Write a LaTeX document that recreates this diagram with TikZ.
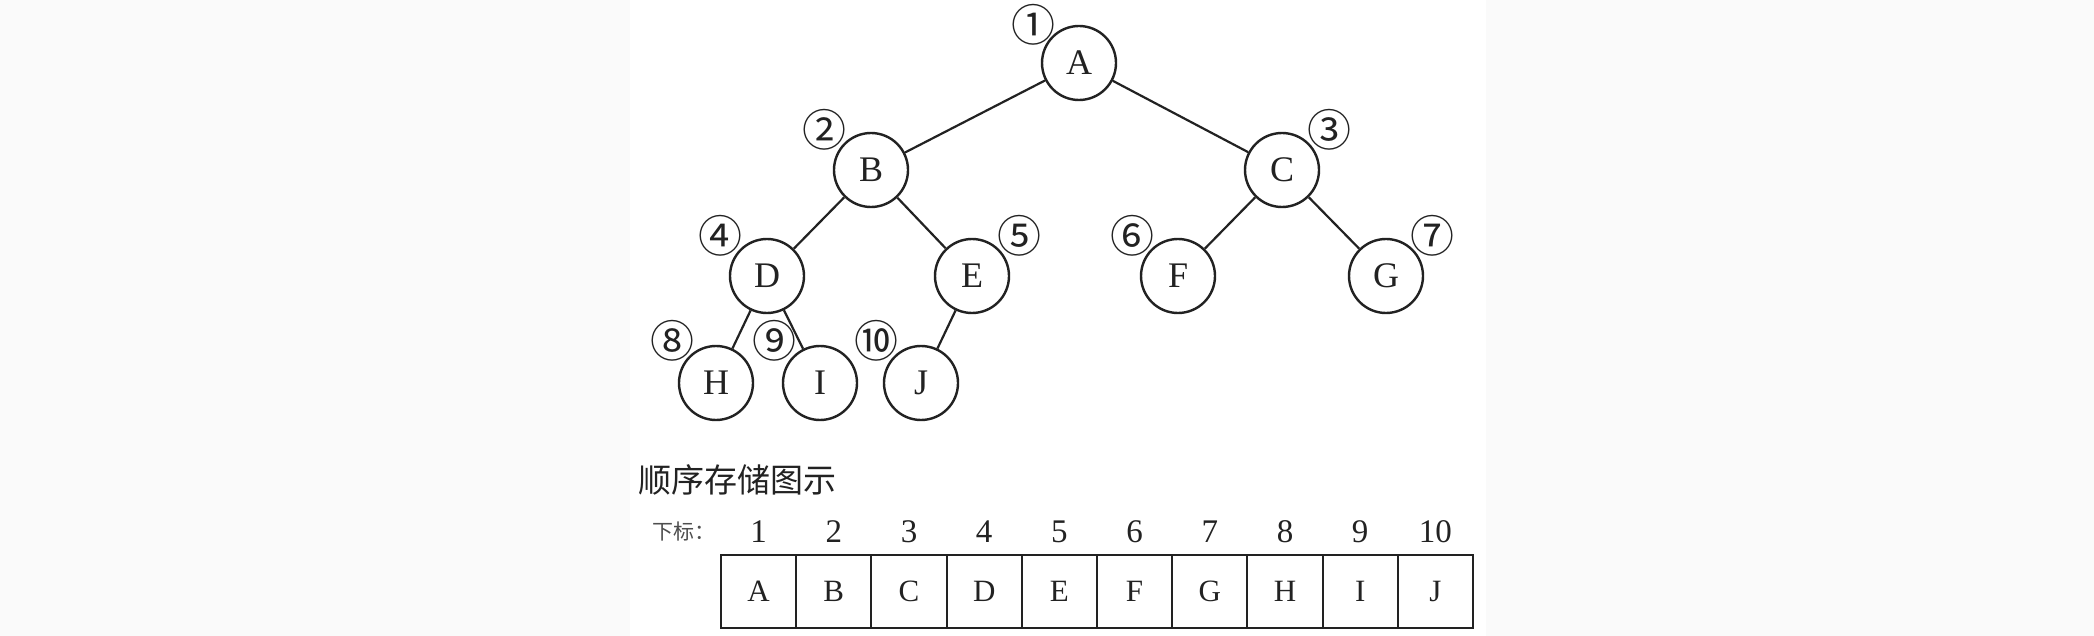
\documentclass[tikz,border=0pt]{standalone}
\usepackage{fontspec}
\setmainfont{Liberation Serif}
\newfontfamily\cjk{Noto Sans CJK SC}
\definecolor{outerbg}{HTML}{FAFAFA}
\definecolor{ink}{HTML}{222222}
\begin{document}
\begin{tikzpicture}[x=0.5pt,y=-0.5pt,
  treenode/.style={circle,draw=ink,text=ink,line width=1.2pt,minimum size=37pt,inner sep=0pt,font=\fontsize{18}{20}\selectfont},
  numlabel/.style={inner sep=0pt,text=ink,font=\cjk\fontsize{22}{24}\selectfont},
  edge/.style={draw=ink,line width=1.1pt},
  cell/.style={draw=ink,text=ink,line width=1pt,minimum width=37.6pt,minimum height=36.5pt,inner sep=0pt,font=\fontsize{15.5}{17}\selectfont},
  idx/.style={inner sep=0pt,text=ink,font=\fontsize{16.5}{18}\selectfont}]
\fill[outerbg] (0,0) rectangle (2094,636);
\fill[white] (630,0) rectangle (1486,636);
\useasboundingbox (0,0) rectangle (2094,636);
% tree nodes
\node[treenode] (A) at (1079,63) {A};
\node[treenode] (B) at (871,170) {B};
\node[treenode] (C) at (1282,170) {C};
\node[treenode] (D) at (767,276) {D};
\node[treenode] (E) at (972,276) {E};
\node[treenode] (F) at (1178,276) {F};
\node[treenode] (G) at (1386,276) {G};
\node[treenode] (H) at (716,383) {H};
\node[treenode] (I) at (820,383) {I};
\node[treenode] (J) at (921,383) {J};
% edges
\draw[edge] (A) -- (B);
\draw[edge] (A) -- (C);
\draw[edge] (B) -- (D);
\draw[edge] (B) -- (E);
\draw[edge] (C) -- (F);
\draw[edge] (C) -- (G);
\draw[edge] (D) -- (H);
\draw[edge] (D) -- (I);
\draw[edge] (E) -- (J);
% circled numbers
\node[numlabel] (l1) at (1033,25) {①};
\node[numlabel] (l2) at (824,130) {②};
\node[numlabel] (l3) at (1329,130) {③};
\node[numlabel] (l4) at (720,236) {④};
\node[numlabel] (l5) at (1019,236) {⑤};
\node[numlabel] (l6) at (1132,236) {⑥};
\node[numlabel] (l7) at (1432,236) {⑦};
\node[numlabel] (l8) at (672,341) {⑧};
\node[numlabel] (l9) at (774,341) {⑨};
\node[numlabel] (l10) at (876,341) {⑩};
% title
\node[anchor=west,inner sep=0pt,text=ink,font=\cjk\fontsize{16.5}{18}\selectfont] (title) at (638,480) {顺序存储图示};
\node[anchor=west,inner sep=0pt,text=ink!80,font=\cjk\fontsize{10.5}{12}\selectfont] (sub) at (652,532) {下标：};
% table
\foreach \i/\t [count=\k from 0] in {1/A,2/B,3/C,4/D,5/E,6/F,7/G,8/H,9/I,10/J}{
  \node[cell] (c\i) at (758.6+75.2*\k,591.5) {\t};
  \node[idx] (n\i) at (758.6+75.2*\k,532) {\i};
}
\end{tikzpicture}
\end{document}
